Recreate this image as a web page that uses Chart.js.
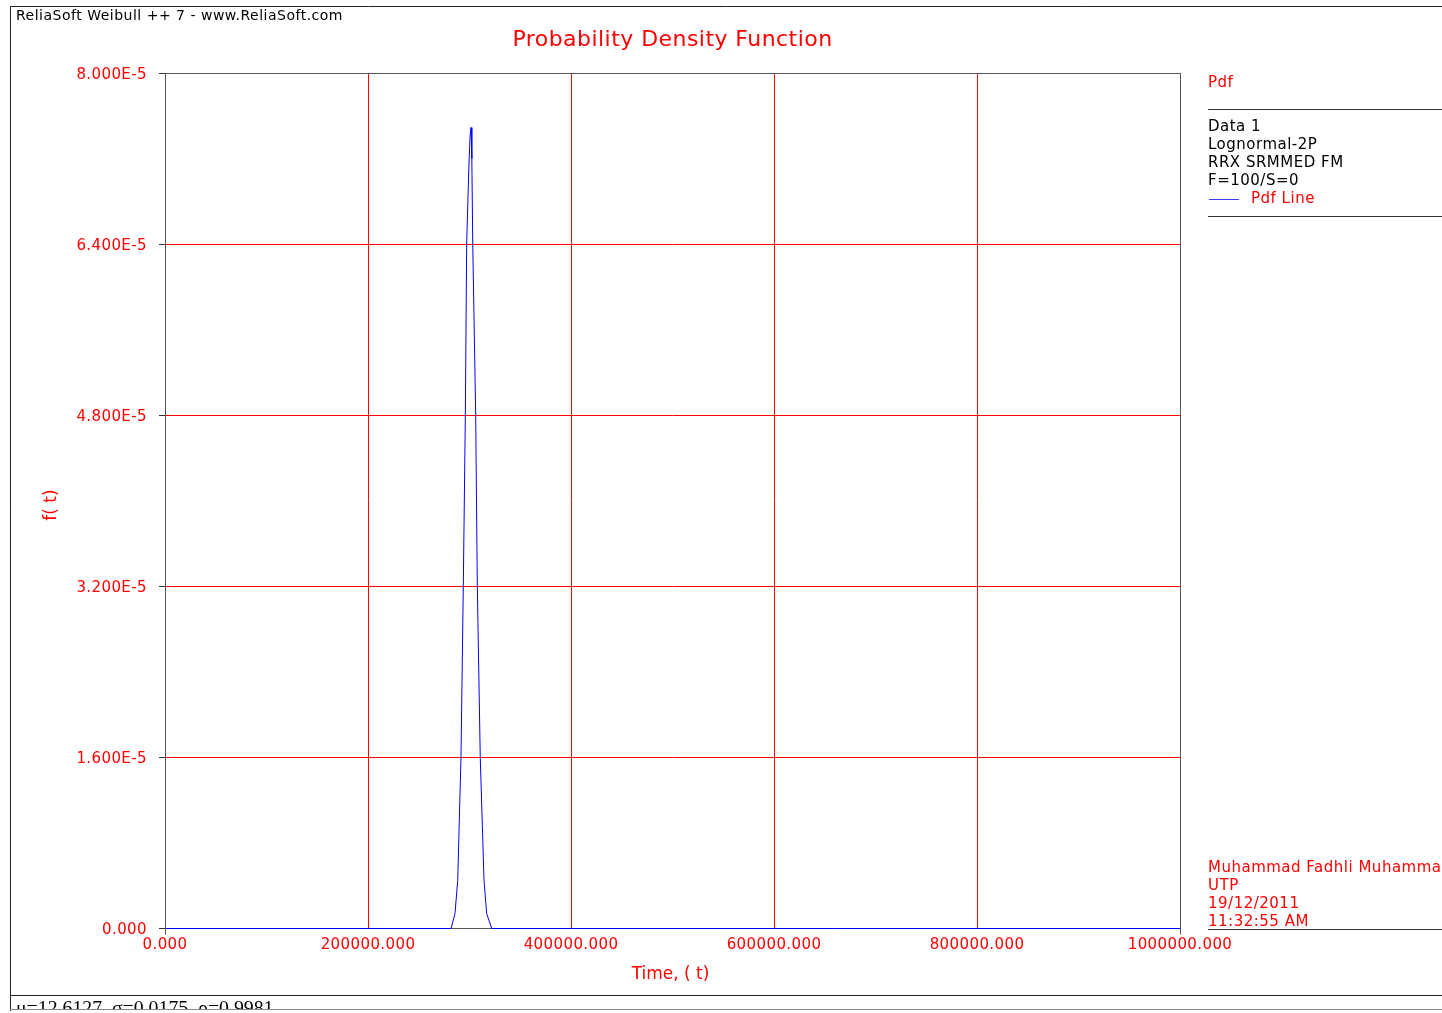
<!DOCTYPE html>
<html>
<head>
<meta charset="utf-8">
<script src="https://cdn.jsdelivr.net/npm/chart.js@4/dist/chart.umd.min.js"></script>
<style>
html,body{margin:0;padding:0;background:#fff;}
#wrap{position:relative;width:1442px;height:1013px;}
</style>
</head>
<body>
<div id="wrap"><canvas id="c" width="1442" height="1013"></canvas></div>
<script>
// ---- data ----
const times = [0, 281800, 285700, 288400, 291600, 293900, 295900, 297200, 299300, 300500, 301500, 302300, 303200, 306100, 307700, 310600, 314300, 316900, 321900, 1000000];
const pdfValues = [0, 0, 1.4e-6, 4.5e-6, 1.6e-5, 3.2e-5, 4.8e-5, 6.4e-5, 7.1e-5, 7.4e-5, 7.49e-5, 7.2e-5, 6.4e-5, 4.8e-5, 3.2e-5, 1.6e-5, 4.5e-6, 1.4e-6, 0, 0];
const xTicks = [0, 200000, 400000, 600000, 800000, 1000000];
const yTicks = [0, 1.6e-5, 3.2e-5, 4.8e-5, 6.4e-5, 8.0e-5];
const legendLines = ["Data 1", "Lognormal-2P", "RRX SRMMED FM", "F=100/S=0"];
const authorLines = ["Muhammad Fadhli Muhammad", "UTP", "19/12/2011", "11:32:55 AM"];

const FONT = "'DejaVu Sans', Verdana, sans-serif";
const RED = '#ff0000';
const FRAME = '#555';

function fmtY(v){
  if (Math.abs(v) < 1e-12) return '0.000';
  return v.toExponential(3).toUpperCase().replace('E-0','E-').replace('E+','E');
}

const decor = {
  id: 'decor',
  beforeDraw(chart){
    chart.ctx.letterSpacing = '0.4px';
  },
  afterDraw(chart){
    const ctx = chart.ctx;
    const ca = chart.chartArea;
    const L = Math.round(ca.left) + 0.5, R = Math.round(ca.right) + 0.5, T = Math.round(ca.top) + 0.5;
    const B = Math.floor(ca.bottom) + 0.5;
    ctx.save();
    // plot frame (left, top, right) with small extensions below baseline
    ctx.strokeStyle = FRAME;
    ctx.lineWidth = 1;
    ctx.beginPath();
    ctx.moveTo(L, B + 6); ctx.lineTo(L, T);
    ctx.lineTo(R, T); ctx.lineTo(R, B + 6);
    ctx.stroke();
    // outer frame
    ctx.strokeStyle = '#222';
    ctx.beginPath();
    ctx.moveTo(10.5, 1011); ctx.lineTo(10.5, 6.5); ctx.lineTo(1442, 6.5);
    ctx.moveTo(10, 995.5); ctx.lineTo(1442, 995.5);
    ctx.stroke();
    // header
    ctx.fillStyle = '#000';
    ctx.letterSpacing = '0.5px';
    ctx.font = '14px ' + FONT;
    ctx.textBaseline = 'middle';
    ctx.textAlign = 'left';
    ctx.fillText('ReliaSoft Weibull ++ 7 - www.ReliaSoft.com', 16, 16);
    // title
    ctx.fillStyle = RED;
    ctx.letterSpacing = '0.45px';
    ctx.font = '22px ' + FONT;
    ctx.textAlign = 'center';
    ctx.fillText('Probability Density Function', (ca.left + ca.right) / 2, 40);
    // axis titles
    ctx.letterSpacing = '0px';
    ctx.font = '17px ' + FONT;
    ctx.fillText('Time, ( t)', (ca.left + ca.right) / 2 - 2, 975);
    ctx.save();
    ctx.translate(52, 505);
    ctx.rotate(-Math.PI / 2);
    ctx.fillText('f( t)', 0, 0);
    ctx.restore();
    // legend
    ctx.textAlign = 'left';
    ctx.letterSpacing = '0.5px';
    ctx.font = '15px ' + FONT;
    ctx.fillStyle = RED;
    ctx.fillText('Pdf', 1208, 83);
    ctx.strokeStyle = '#333';
    ctx.beginPath();
    ctx.moveTo(1208, 109.5); ctx.lineTo(1442, 109.5);
    ctx.moveTo(1208, 216.5); ctx.lineTo(1442, 216.5);
    ctx.moveTo(1208, 929.5); ctx.lineTo(1442, 929.5);
    ctx.stroke();
    ctx.fillStyle = '#000';
    legendLines.forEach((t, i) => ctx.fillText(t, 1208, 127 + i * 18));
    ctx.strokeStyle = '#4040ff';
    ctx.beginPath();
    ctx.moveTo(1209, 199.5); ctx.lineTo(1239, 199.5);
    ctx.stroke();
    ctx.fillStyle = RED;
    ctx.fillText('Pdf Line', 1251, 199);
    authorLines.forEach((t, i) => ctx.fillText(t, 1208, 868 + i * 18));
    // footer
    ctx.save();
    ctx.beginPath();
    ctx.rect(10, 996, 1432, 14);
    ctx.clip();
    ctx.fillStyle = '#000';
    ctx.letterSpacing = '0px';
    ctx.font = '19.8px "Liberation Serif", serif';
    ctx.textBaseline = 'alphabetic';
    ctx.fillText('\u03bc=12.6127, \u03c3=0.0175, \u03c1=0.9981', 16, 1014);
    ctx.restore();
    ctx.strokeStyle = '#888';
    ctx.beginPath();
    ctx.moveTo(10, 1009.5); ctx.lineTo(1442, 1009.5);
    ctx.stroke();
    ctx.restore();
  }
};

new Chart(document.getElementById('c'), {
  type: 'line',
  data: {
    datasets: [{
      label: 'Pdf Line',
      data: times.map((t, i) => ({x: t, y: pdfValues[i]})),
      borderColor: '#0000ff',
      borderWidth: 1,
      pointRadius: 0,
      tension: 0,
      fill: false,
      clip: 4
    }]
  },
  options: {
    responsive: false,
    animation: false,
    devicePixelRatio: 1,
    layout: {padding: {left: 0, right: 262, top: 73, bottom: 25}},
    plugins: {legend: {display: false}, title: {display: false}, tooltip: {enabled: false}},
    scales: {
      x: {
        type: 'linear', min: 0, max: 1000000,
        afterBuildTicks: s => { s.ticks = xTicks.map(v => ({value: v})); },
        afterFit: s => { s.height = 59.5; },
        border: {display: true, color: FRAME},
        grid: {color: RED, lineWidth: 1, drawTicks: false},
        ticks: {
          color: RED, font: {family: FONT, size: 15}, padding: 8, maxRotation: 0,
          callback: v => Number(v).toFixed(3)
        }
      },
      y: {
        type: 'linear', min: 0, max: 8e-5,
        afterBuildTicks: s => { s.ticks = yTicks.map(v => ({value: v})); },
        afterFit: s => { s.width = 165; },
        border: {display: false},
        grid: {color: RED, lineWidth: 1, drawTicks: true, tickLength: 6, tickColor: '#333'},
        ticks: {
          color: RED, font: {family: FONT, size: 15}, padding: 12, labelOffset: 2,
          callback: v => fmtY(v)
        }
      }
    }
  },
  plugins: [decor]
});
</script>
</body>
</html>
